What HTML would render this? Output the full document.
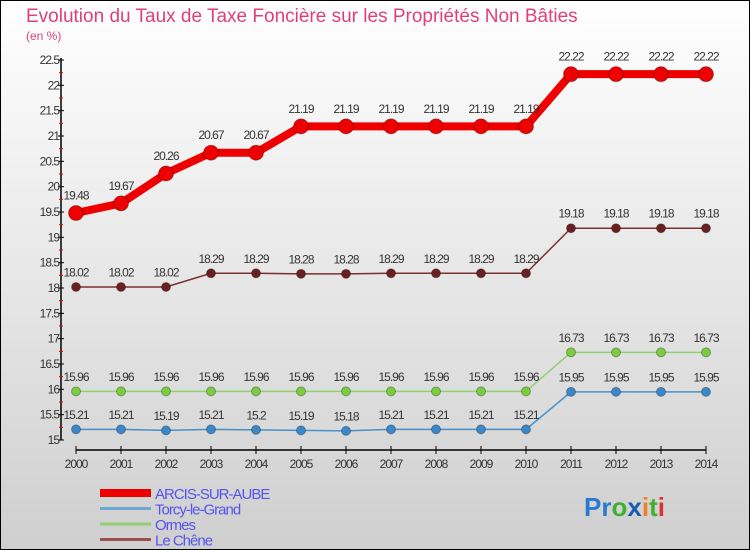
<!DOCTYPE html>
<html><head><meta charset="utf-8"><style>
body{margin:0}
#c{width:750px;height:550px;position:relative;overflow:hidden;font-family:"Liberation Sans",sans-serif;background:linear-gradient(#ffffff,#cfcfcf);box-sizing:border-box;border:1px solid #000}
</style></head><body>
<div id="c">
<svg width="750" height="550" id="s" style="position:absolute;left:-1px;top:-1px"></svg>
</div>
<script>
const years=[2000,2001,2002,2003,2004,2005,2006,2007,2008,2009,2010,2011,2012,2013,2014];
const arcis=[19.48,19.67,20.26,20.67,20.67,21.19,21.19,21.19,21.19,21.19,21.19,22.22,22.22,22.22,22.22];
const torcy=[15.21,15.21,15.19,15.21,15.2,15.19,15.18,15.21,15.21,15.21,15.21,15.95,15.95,15.95,15.95];
const ormes=[15.96,15.96,15.96,15.96,15.96,15.96,15.96,15.96,15.96,15.96,15.96,16.73,16.73,16.73,16.73];
const chene=[18.02,18.02,18.02,18.29,18.29,18.28,18.28,18.29,18.29,18.29,18.29,19.18,19.18,19.18,19.18];
const yTicks=[15,15.5,16,16.5,17,17.5,18,18.5,19,19.5,20,20.5,21,21.5,22,22.5];
const s=document.getElementById('s');const NS='http://www.w3.org/2000/svg';
function el(t,a,txt){const e=document.createElementNS(NS,t);for(const k in a)e.setAttribute(k,a[k]);if(txt!==undefined)e.textContent=txt;s.appendChild(e);return e;}
const X=i=>76+i*45, Y=v=>440-(v-15)/7.5*380;
let t=el('text',{x:26,y:22,'font-size':19,fill:'#e0407a'},'Evolution du Taux de Taxe Foncière sur les Propriétés Non Bâties');

t=el('text',{x:26,y:40,'font-size':12,fill:'#e0407a'},'(en %)');

let a=el('path',{d:'M61 58V440',stroke:'#000','stroke-width':1.5});

yTicks.forEach((v,i)=>{el('path',{d:`M58 ${Y(v)}H64`,stroke:'#000'});
 if(i<yTicks.length-1)el('path',{d:`M59 ${Y(v+0.25)}H63`,stroke:'#e00'});
 const l=el('text',{x:59,y:Y(v)+4,'font-size':12,fill:'#333','text-anchor':'end','letter-spacing':'-1'},String(v));
 });
a=el('path',{d:'M76 450H706',stroke:'#000','stroke-width':1.5});

years.forEach((y,i)=>{el('path',{d:`M${X(i)} 446V454`,stroke:'#000'});
 const l=el('text',{x:X(i),y:468,'font-size':12,fill:'#333','text-anchor':'middle','letter-spacing':'-1'},String(y));
 });
function series(d,col,w,r,name,lc){
 const p=el('polyline',{points:d.map((v,i)=>X(i)+','+Y(v)).join(' '),fill:'none',stroke:col,'stroke-width':w});
 
 d.forEach((v,i)=>{const c=el('circle',{cx:X(i),cy:Y(v),r:r,fill:lc,stroke:'rgba(0,0,0,0.3)'});
  
  const l=el('text',{x:X(i),y:Y(v)-(r+6),'font-size':12,fill:'#333','text-anchor':'middle','letter-spacing':'-1'},String(v));
  });
}
series(torcy,'#4a90c8',1.5,4.5,'torcy','#3a88cc');
series(ormes,'#90d070',1.5,4.5,'ormes','#7ccc40');
series(chene,'#7a3030',1.5,4.5,'chene','#6a2020');
series(arcis,'#ee0000',8,7.5,'arcis','#ee0000');
const leg=[['ARCIS-SUR-AUBE','#ee0000',8],['Torcy-le-Grand','#6fa8d8',3],['Ormes','#90d070',3],['Le Chêne','#9a5050',3]];
leg.forEach((L,i)=>{const y=493+i*15.5;
 const sw=el('path',{d:`M100 ${y}H151`,stroke:L[1],'stroke-width':L[2]});
 
 const tx=el('text',{x:155,y:y+6,'font-size':15,fill:'#5555ee','letter-spacing':'-1'},L[0]);
 });
const lg=el('text',{x:584,y:516,'font-size':26,'font-weight':'bold'});

[['Pr','#2a7ad0'],['o','#40b030'],['x','#1a5ab0'],['i','#f08020'],['t','#40b030'],['i','#e03030']].forEach(p=>{const ts=document.createElementNS(NS,'tspan');ts.setAttribute('fill',p[1]);ts.textContent=p[0];lg.appendChild(ts);});
</script>
</body></html>
